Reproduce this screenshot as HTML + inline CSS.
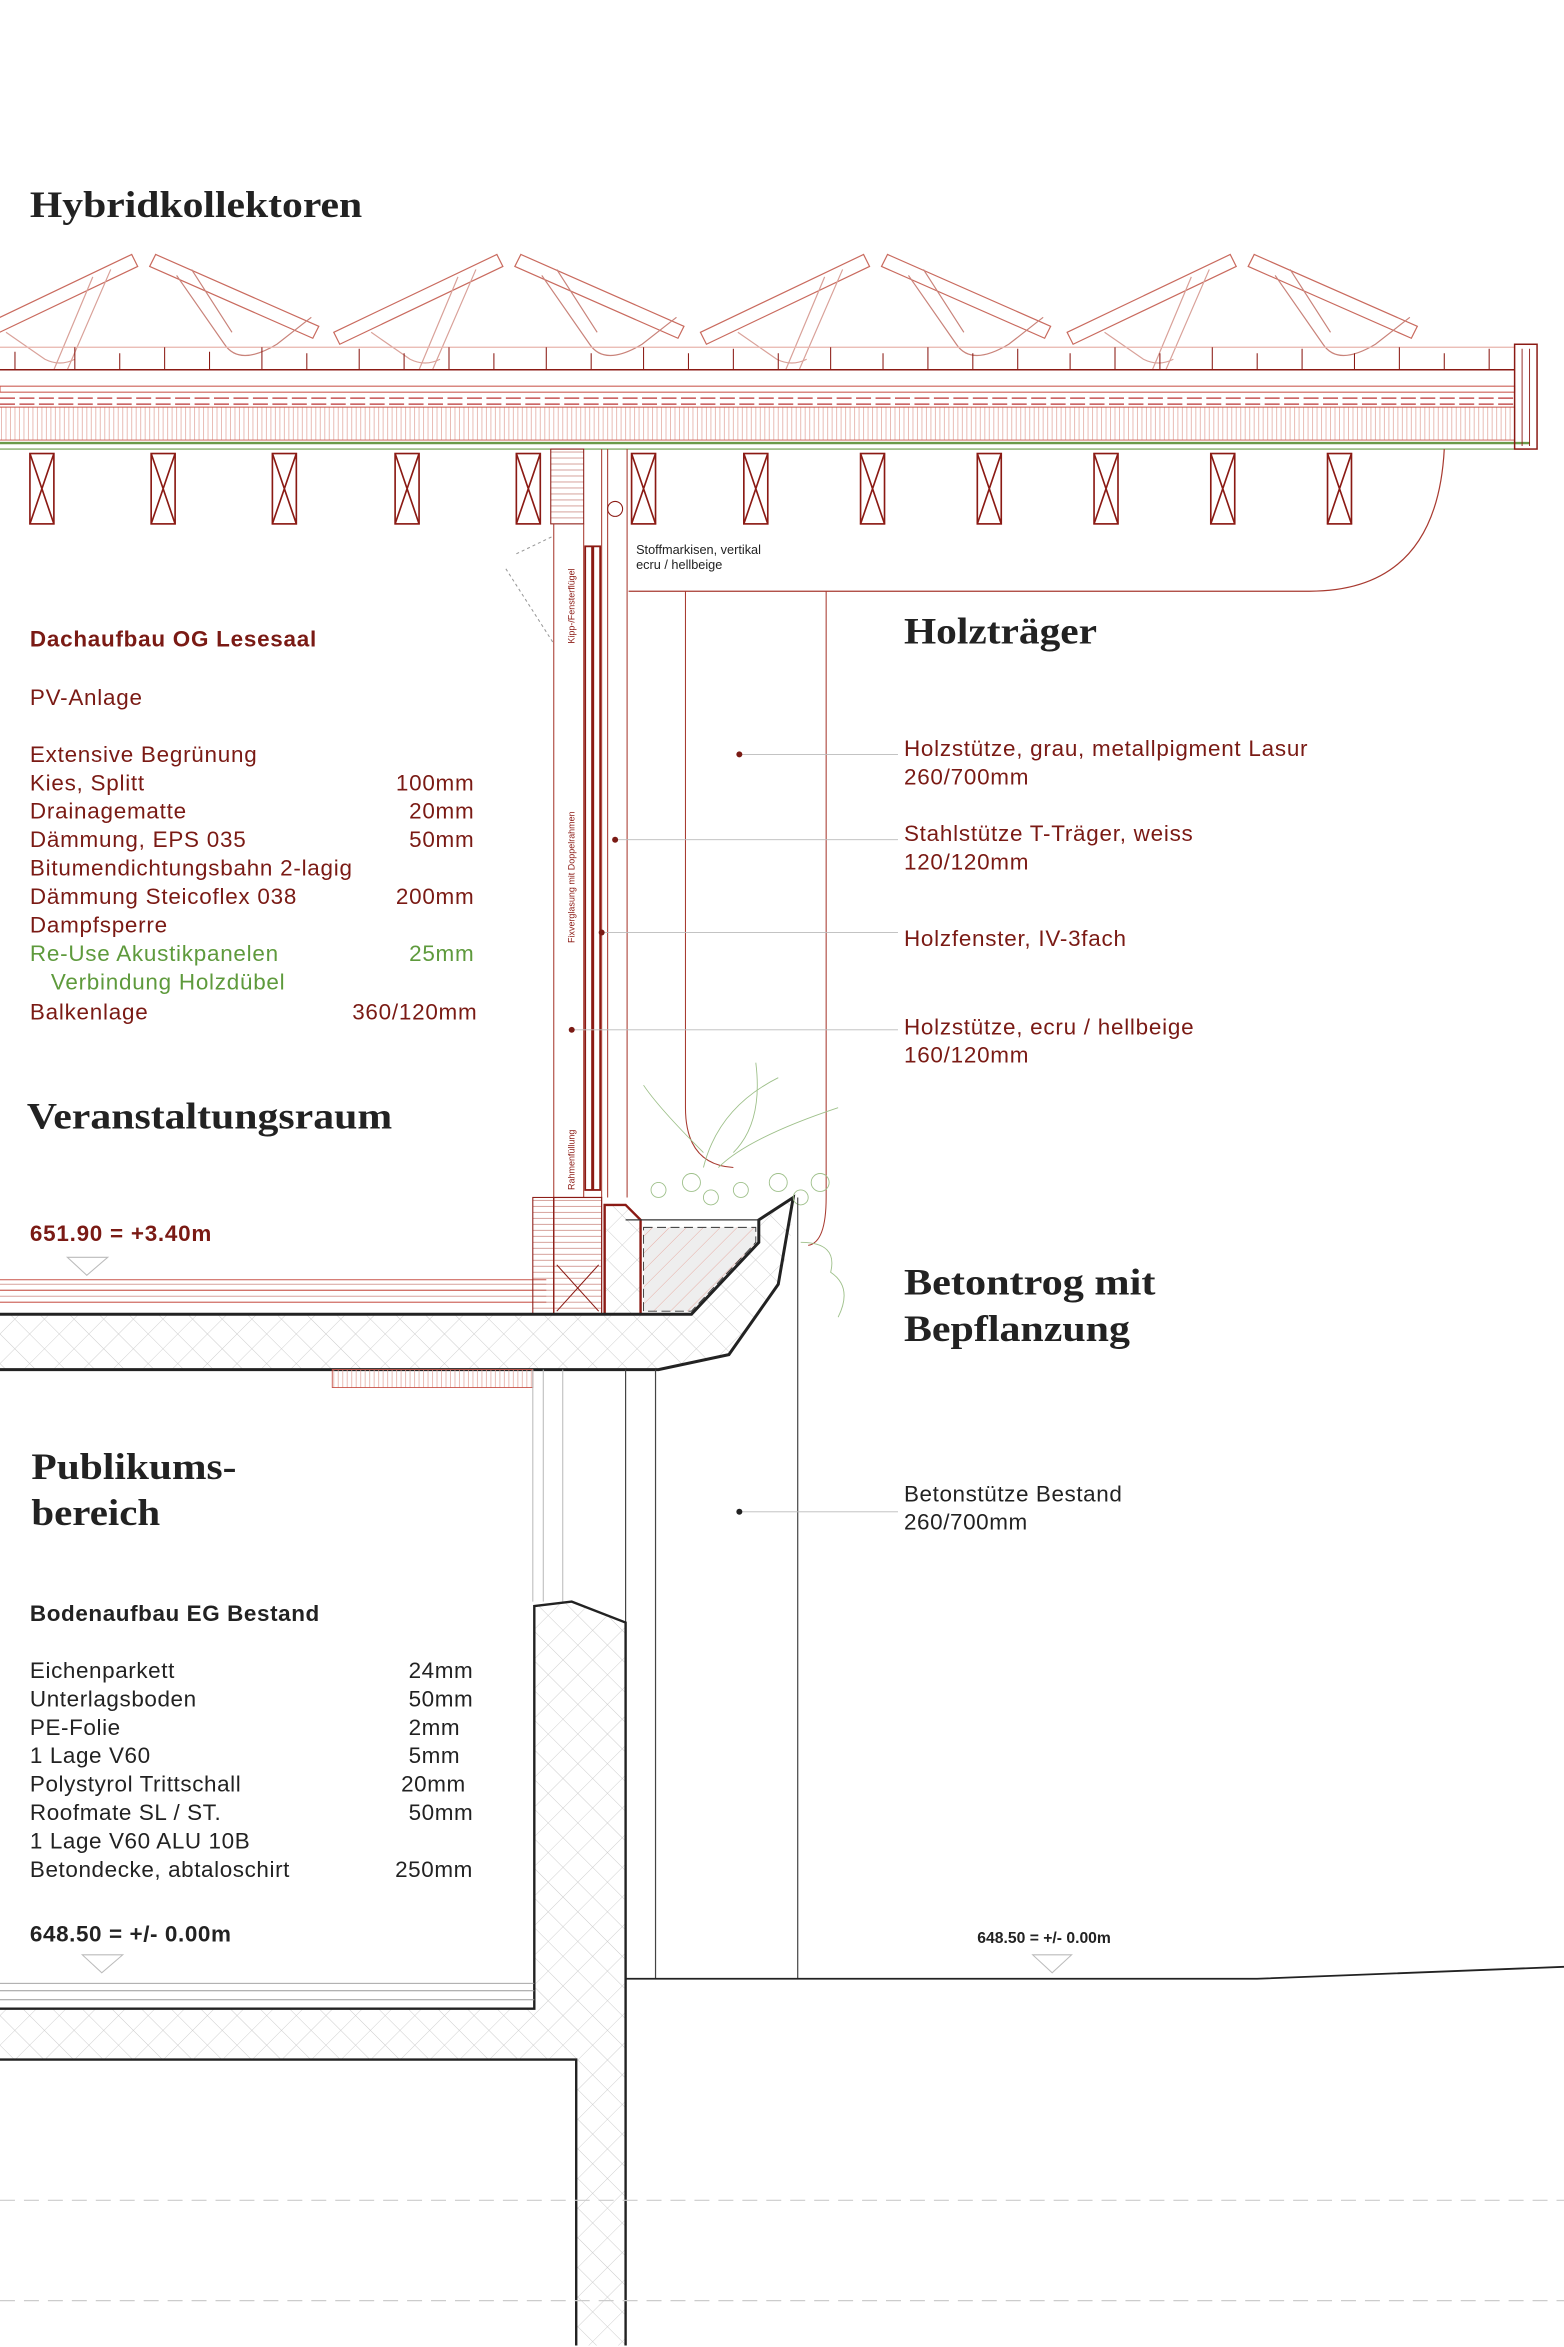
<!DOCTYPE html>
<html><head><meta charset="utf-8"><style>
html,body{margin:0;padding:0;background:#fff}
svg{display:block}
.s{font-family:"Liberation Sans",sans-serif;fill:#7a1a14;font-size:15px;letter-spacing:0.5px}
.h{font-family:"Liberation Serif",serif;font-weight:bold;fill:#222;font-size:25px}
.k{font-family:"Liberation Sans",sans-serif;fill:#222;font-size:15px;letter-spacing:0.4px}
</style></head><body>
<svg width="1564" height="2347" viewBox="0 0 1045 1568" preserveAspectRatio="none" xmlns="http://www.w3.org/2000/svg">
<defs>
<pattern id="x" width="14" height="14" patternUnits="userSpaceOnUse" patternTransform="rotate(45)"><path d="M0 0H14M0 0V14" stroke="#ccc" stroke-width="0.6"/></pattern>
<pattern id="v" width="3" height="10" patternUnits="userSpaceOnUse"><path d="M1 0V10" stroke="#e2a59c" stroke-width="0.5"/></pattern>
<pattern id="hz" width="10" height="4" patternUnits="userSpaceOnUse"><path d="M0 2H10" stroke="#c9837a" stroke-width="0.5"/></pattern>
<pattern id="dg" width="8" height="8" patternUnits="userSpaceOnUse" patternTransform="rotate(45)"><path d="M0 0V8" stroke="#e7a79d" stroke-width="0.6"/></pattern>
</defs>

<text class="h" x="20" y="145" textLength="222" lengthAdjust="spacingAndGlyphs">Hybridkollektoren</text>

<!-- PV panels -->
<g fill="none" stroke="#c96a5e" stroke-width="0.8">
<g id="pair">
<path d="M-21 222L88 170L92 178L-17 230Z"/>
<path d="M100 178L104 170L213 218L209 226Z"/>
<path d="M62 185L36 247M74 180L45 247" stroke="#d9a199"/>
<path d="M118 184L150 230Q160 245 185 230L208 212M128 180L155 222" stroke="#c9837a"/>
<path d="M4 222L30 240Q40 245 50 240" stroke="#d9a199"/>
</g>
<use href="#pair" x="244"/><use href="#pair" x="489"/><use href="#pair" x="734"/>
</g>
<path d="M0 232H1012" stroke="#e8b5ad" stroke-width="0.8"/>
<path d="M0 247H1012" stroke="#8b1a14" stroke-width="1"/>
<g stroke="#8b1a14" stroke-width="0.7" fill="none">
<path d="M10 247V235M50 247V232M80 247V236M110 247V232M140 247V235M175 247V232M205 247V236M240 247V233M270 247V236M300 247V232M330 247V236M365 247V232M395 247V236M430 247V232M460 247V236M490 247V233M520 247V236M555 247V232M590 247V236M620 247V232M650 247V236M680 247V233M715 247V236M745 247V232M775 247V236M810 247V232M840 247V236M870 247V233M905 247V236M935 247V232M965 247V236M995 247V233"/>
</g>
<rect x="0" y="258" width="1012" height="4" fill="none" stroke="#c9544a" stroke-width="0.7"/>
<path d="M0 266H1012M0 270H1012" stroke="#b33" stroke-width="0.8" stroke-dasharray="10 3"/>
<rect x="0" y="272" width="1012" height="22" fill="url(#v)"/>
<path d="M0 272H1012M0 294H1012" stroke="#c9544a" stroke-width="0.6"/>
<path d="M0 296H1022" stroke="#6b9a4a" stroke-width="1.6"/>
<path d="M0 300H1022" stroke="#6b9a4a" stroke-width="0.8"/>
<rect x="1012" y="230" width="15" height="70" fill="none" stroke="#8b1a14" stroke-width="1"/>
<path d="M1017 233V298M1022 233V298" stroke="#8b1a14" stroke-width="0.6"/>
<g fill="none" stroke="#8b1a14" stroke-width="1.1">
<g id="j"><rect x="20" y="303" width="16" height="47"/><path d="M20 303L36 350M36 303L20 350"/></g>
<use href="#j" x="81"/><use href="#j" x="162"/><use href="#j" x="244"/><use href="#j" x="325"/><use href="#j" x="402"/><use href="#j" x="477"/><use href="#j" x="555"/><use href="#j" x="633"/><use href="#j" x="711"/><use href="#j" x="789"/><use href="#j" x="867"/>
</g>
<path d="M965 300Q960 395 875 395H420" fill="none" stroke="#a83a30" stroke-width="0.8"/>
<path d="M552 395V800M458 395V740Q458 778 490 780" fill="none" stroke="#a83a30" stroke-width="0.7"/>
<path d="M552 800Q552 830 540 832" fill="none" stroke="#a83a30" stroke-width="0.7"/>
<rect x="368" y="300" width="22" height="50" fill="url(#hz)" stroke="#8b1a14" stroke-width="0.7"/>
<g stroke="#a83a30" stroke-width="0.7" fill="none">
<path d="M370 350V878M390 350V800M402 300V800M406 300V800M419 300V800"/>
<path d="M345 370L370 358M338 380L370 430" stroke="#999" stroke-dasharray="2 2"/>
</g>
<rect x="391" y="365" width="10" height="430" fill="none" stroke="#8b1a14" stroke-width="1.2"/>
<path d="M396 365V795" stroke="#8b1a14" stroke-width="2"/>
<circle cx="411" cy="340" r="5" fill="none" stroke="#8b1a14" stroke-width="0.7"/>
<text x="425" y="370" font-family="Liberation Sans,sans-serif" font-size="8.5" fill="#222">Stoffmarkisen, vertikal</text>
<text x="425" y="380" font-family="Liberation Sans,sans-serif" font-size="8.5" fill="#222">ecru / hellbeige</text>
<text transform="translate(384,430) rotate(-90)" font-family="Liberation Sans,sans-serif" font-size="6" fill="#8b1a14">Kipp-/Fensterflügel</text>
<text transform="translate(384,630) rotate(-90)" font-family="Liberation Sans,sans-serif" font-size="6" fill="#8b1a14">Fixverglasung mit Doppelrahmen</text>
<text transform="translate(384,795) rotate(-90)" font-family="Liberation Sans,sans-serif" font-size="6" fill="#8b1a14">Rahmenfüllung</text>

<text class="s" x="20" y="432" font-weight="bold" letter-spacing="0.3">Dachaufbau OG Lesesaal</text>
<text class="s" x="20" y="471">PV-Anlage</text>
<g class="s">
<text x="20" y="509">Extensive Begrünung</text>
<text x="20" y="528">Kies, Splitt</text><text x="317" y="528" text-anchor="end">100mm</text>
<text x="20" y="547">Drainagematte</text><text x="317" y="547" text-anchor="end">20mm</text>
<text x="20" y="566">Dämmung, EPS 035</text><text x="317" y="566" text-anchor="end">50mm</text>
<text x="20" y="585">Bitumendichtungsbahn 2-lagig</text>
<text x="20" y="604">Dämmung Steicoflex 038</text><text x="317" y="604" text-anchor="end">200mm</text>
<text x="20" y="623">Dampfsperre</text>
<text x="20" y="642" fill="#5e9a3c">Re-Use Akustikpanelen</text><text x="317" y="642" text-anchor="end" fill="#5e9a3c">25mm</text>
<text x="34" y="661" fill="#5e9a3c">Verbindung Holzdübel</text>
<text x="20" y="681">Balkenlage</text><text x="319" y="681" text-anchor="end">360/120mm</text>
</g>
<text class="h" x="18" y="754" textLength="244" lengthAdjust="spacingAndGlyphs">Veranstaltungsraum</text>
<text class="s" x="20" y="829" font-weight="bold" letter-spacing="0.2">651.90 = +3.40m</text>
<path d="M45 840H72L58 852Z" fill="none" stroke="#bbb" stroke-width="0.7"/>

<rect x="0" y="855" width="365" height="15" fill="url(#hz)"/>
<path d="M0 855H365M0 862H365M0 870H365" stroke="#c9544a" stroke-width="0.7"/>
<rect x="356" y="800" width="14" height="78" fill="url(#hz)" stroke="#8b1a14" stroke-width="0.7"/>
<rect x="370" y="800" width="32" height="78" fill="url(#hz)" stroke="#8b1a14" stroke-width="0.8"/>
<path d="M372 845L400 876M400 845L372 876" stroke="#8b1a14" stroke-width="0.7"/>
<path d="M404 805H418L428 815V878H404Z" fill="url(#x)" stroke="#8b1a14" stroke-width="1.6"/>
<path d="M0 878H428V878H462L507 830V815L530 800L528 830L520 858L487 905L440 915H0Z" fill="url(#x)"/>
<path d="M0 878H462L507 830V815L530 800L520 858L487 905L440 915H0" fill="none" stroke="#222" stroke-width="2"/>
<path d="M430 820H505V830L462 876H430Z" fill="#eee"/>
<path d="M430 820H505V830L462 876H430Z" fill="url(#dg)" stroke="#333" stroke-width="0.6" stroke-dasharray="6 3"/>
<path d="M418 815H507" stroke="#333" stroke-width="0.8"/>
<g fill="none" stroke="#9ec08a" stroke-width="0.6">
<path d="M470 780Q480 740 520 720M480 780Q500 760 560 740M470 770Q440 740 430 725M490 770Q510 750 505 710"/>
<circle cx="462" cy="790" r="6"/><circle cx="475" cy="800" r="5"/><circle cx="520" cy="790" r="6"/><circle cx="535" cy="800" r="5"/><circle cx="548" cy="790" r="6"/><circle cx="440" cy="795" r="5"/><circle cx="495" cy="795" r="5"/>
<path d="M535 830Q560 830 555 850Q570 860 560 880"/>
</g>
<rect x="222" y="915" width="134" height="12" fill="url(#v)" stroke="#c9544a" stroke-width="0.6"/>
<path d="M356 915V1070M363 915V1070M376 915V1070" stroke="#bbb" stroke-width="0.7"/>
<path d="M418 915V1322M438 915V1322M533 800V1322" stroke="#444" stroke-width="0.8"/>

<text class="h" x="21" y="988" textLength="137" lengthAdjust="spacingAndGlyphs">Publikums-</text>
<text class="h" x="21" y="1019" textLength="86" lengthAdjust="spacingAndGlyphs">bereich</text>
<text class="k" x="20" y="1083" font-weight="bold" letter-spacing="0.3">Bodenaufbau EG Bestand</text>
<g class="k">
<text x="20" y="1121">Eichenparkett</text><text x="273" y="1121">24mm</text>
<text x="20" y="1140">Unterlagsboden</text><text x="273" y="1140">50mm</text>
<text x="20" y="1159">PE-Folie</text><text x="273" y="1159">2mm</text>
<text x="20" y="1178">1 Lage V60</text><text x="273" y="1178">5mm</text>
<text x="20" y="1197">Polystyrol Trittschall</text><text x="268" y="1197">20mm</text>
<text x="20" y="1216">Roofmate SL / ST.</text><text x="273" y="1216">50mm</text>
<text x="20" y="1235">1 Lage V60 ALU 10B</text>
<text x="20" y="1254">Betondecke, abtaloschirt</text><text x="264" y="1254">250mm</text>
</g>
<text class="k" x="20" y="1297" font-weight="bold" letter-spacing="0.3">648.50 = +/- 0.00m</text>
<path d="M55 1306H82L68 1318Z" fill="none" stroke="#bbb" stroke-width="0.7"/>

<path d="M357 1342V1073L382 1070L418 1084V1567H385V1376H0V1342Z" fill="url(#x)"/>
<path d="M0 1342H357V1073L382 1070L418 1084V1567" fill="none" stroke="#222" stroke-width="1.6"/>
<path d="M0 1376H385V1567" fill="none" stroke="#222" stroke-width="1.6"/>
<path d="M0 1325H357M0 1330H357M0 1336H357" stroke="#999" stroke-width="0.6"/>
<path d="M418 1322H840L1045 1314" fill="none" stroke="#222" stroke-width="1.2"/>
<path d="M0 1470H1045M0 1537H1045" stroke="#ccc" stroke-width="0.8" stroke-dasharray="10 6"/>
<text x="653" y="1298" font-family="Liberation Sans,sans-serif" font-weight="bold" font-size="10.5" fill="#222">648.50 = +/- 0.00m</text>
<path d="M690 1306H716L703 1318Z" fill="none" stroke="#bbb" stroke-width="0.7"/>

<text class="h" x="604" y="430" textLength="129" lengthAdjust="spacingAndGlyphs">Holzträger</text>
<g stroke="#bbb" stroke-width="0.6">
<path d="M494 504H600M411 561H600M402 623H600M382 688H600M494 1010H600"/>
</g>
<g fill="#7a1a14"><circle cx="494" cy="504" r="2"/><circle cx="411" cy="561" r="2"/><circle cx="402" cy="623" r="2"/><circle cx="382" cy="688" r="2"/></g>
<circle cx="494" cy="1010" r="2" fill="#222"/>
<g class="s">
<text x="604" y="505">Holzstütze, grau, metallpigment Lasur</text>
<text x="604" y="524">260/700mm</text>
<text x="604" y="562">Stahlstütze T-Träger, weiss</text>
<text x="604" y="581">120/120mm</text>
<text x="604" y="632">Holzfenster, IV-3fach</text>
<text x="604" y="691">Holzstütze, ecru / hellbeige</text>
<text x="604" y="710">160/120mm</text>
</g>
<text class="h" x="604" y="865" textLength="168" lengthAdjust="spacingAndGlyphs">Betontrog mit</text>
<text class="h" x="604" y="896" textLength="151" lengthAdjust="spacingAndGlyphs">Bepflanzung</text>
<text class="k" x="604" y="1003">Betonstütze Bestand</text>
<text class="k" x="604" y="1022">260/700mm</text>
</svg>
</body></html>
